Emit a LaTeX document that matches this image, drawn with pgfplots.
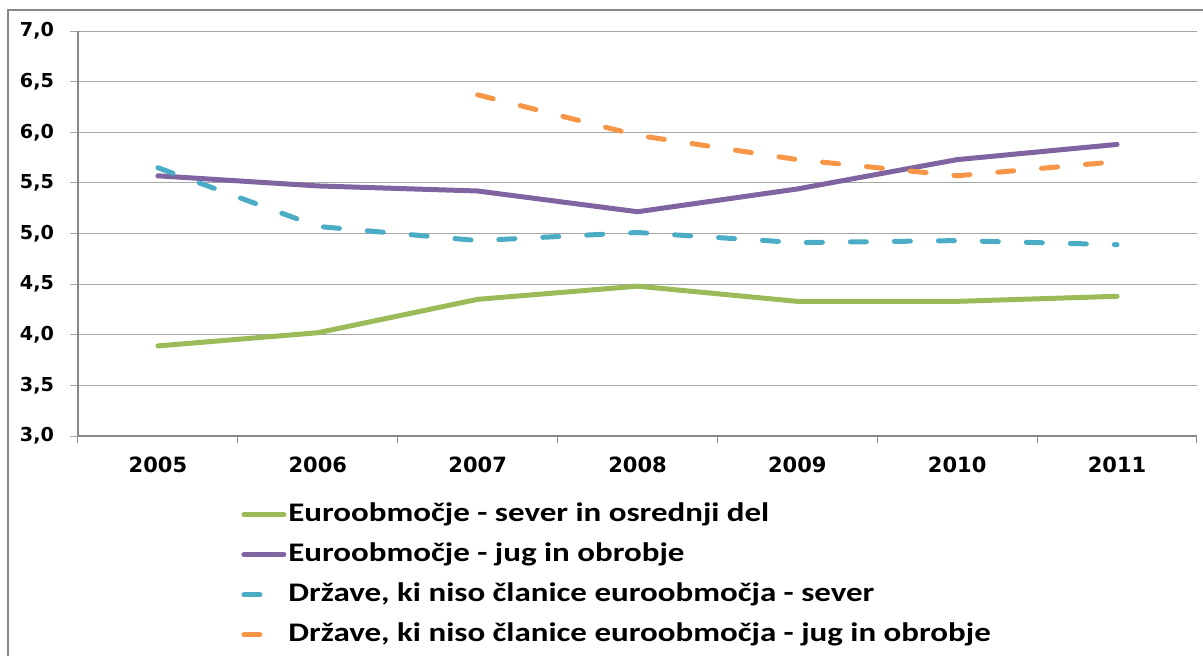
\documentclass[border=0pt]{standalone}
\usepackage{fontspec}
\usepackage{pgfplots}
\pgfplotsset{compat=1.18}
\setmainfont{DejaVu Sans}
\newfontfamily\tickfont{DejaVu Sans}
\newfontfamily\legfont[FakeStretch=1.23]{Carlito}
\definecolor{cgreen}{HTML}{9BBB59}
\definecolor{cpurple}{HTML}{8064A2}
\definecolor{cteal}{HTML}{4BACC6}
\definecolor{corange}{HTML}{F79646}
\definecolor{cgrid}{HTML}{A6A6A6}
\definecolor{caxis}{HTML}{888888}
\begin{document}
\begin{tikzpicture}
\useasboundingbox (0,0) rectangle (601.5pt,-327.5pt);
\draw[caxis,line width=0.6pt] (4pt,-330pt) -- (4pt,-5pt) -- (605pt,-5pt);
\begin{axis}[
  at={(39pt,-218pt)}, anchor=south west,
  scale only axis, width=559.5pt, height=202.5pt,
  xmin=-0.5, xmax=6.5, ymin=3, ymax=7,
  xtick={0,1,2,3,4,5,6},
  xticklabels={2005,2006,2007,2008,2009,2010,2011},
  minor xtick={-0.5,0.5,1.5,2.5,3.5,4.5,5.5,6.5},
  major x tick style={draw=none},
  minor x tick style={caxis,line width=0.5pt},
  minor tick length=3.5pt,
  ytick={3,3.5,...,7},
  y tick style={cgrid,line width=0.5pt},
  major tick length=4pt,
  tick align=outside,
  axis x line*=bottom, axis y line*=left,
  axis line style={caxis,line width=0.6pt,-},
  ymajorgrids, grid style={cgrid,line width=0.5pt},
  yticklabel style={font=\tickfont\bfseries\fontsize{9.6}{11}\selectfont,xshift=-4.5pt},
  xticklabel style={font=\tickfont\bfseries\fontsize{10.5}{12}\selectfont,yshift=-3pt},
  /pgf/number format/.cd, fixed, fixed zerofill, precision=1, use comma, assume math mode=true,
  /pgfplots/.cd,
  every axis plot/.append style={line width=2.5pt, line cap=round, line join=round},
  legend style={at={(0.1403,-0.145)}, anchor=north west, draw=none, fill=none,
    font=\legfont\bfseries\fontsize{13.4}{15}\selectfont, row sep=4.5pt,
    nodes={text height=10pt, text depth=3.5pt, inner sep=1pt}},
  legend cell align=left,
  legend image code/.code={\draw[#1] (0pt,0pt) -- (20pt,0pt);},
]
\addplot[cgreen] coordinates {(0,3.89) (1,4.02) (2,4.35) (3,4.48) (4,4.33) (5,4.33) (6,4.38)};
\addlegendentry{Euroobmočje - sever in osrednji del}
\addplot[cpurple] coordinates {(0,5.57) (1,5.47) (2,5.42) (3,5.215) (4,5.44) (5,5.73) (6,5.88)};
\addlegendentry{Euroobmočje - jug in obrobje}
\addplot[cteal, dash pattern=on 8pt off 14pt] coordinates {(0,5.65) (1,5.07) (2,4.93) (3,5.01) (4,4.91) (5,4.93) (6,4.89)};
\addlegendentry{Države, ki niso članice euroobmočja - sever}
\addplot[corange, dash pattern=on 8pt off 14pt] coordinates {(2,6.37) (3,5.97) (4,5.73) (5,5.57) (6,5.71)};
\addlegendentry{Države, ki niso članice euroobmočja - jug in obrobje}
\end{axis}
\end{tikzpicture}
\end{document}
